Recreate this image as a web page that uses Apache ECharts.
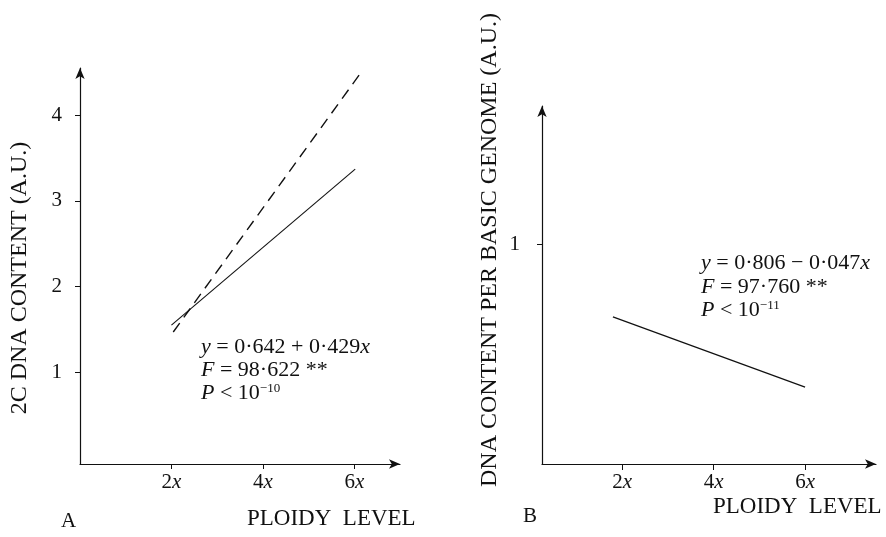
<!DOCTYPE html>
<html>
<head>
<meta charset="utf-8">
<script src="https://cdn.jsdelivr.net/npm/echarts@6/dist/echarts.min.js"></script>
<style>
  html, body { margin: 0; padding: 0; background: #fff; }
  #chart { width: 886px; height: 537px; }
</style>
</head>
<body>
<div id="chart"></div>
<script>
// ploidy ticks (2x, 4x, 6x)
const xTicks = [2, 4, 6]
const yTicksA = [1, 2, 3, 4]
const yTicksB = [1]

// panel A: fitted line (solid) and expected line (dashed)
const lineASolid = [[2.0, 1.55], [6.02, 3.37]]
const lineADashed = [[2.04, 1.47], [6.15, 4.5]]
// panel B: content per basic genome
const lineB = [[1.8, 0.67], [6.0, 0.35]]

const ink = '#111'
const serif = '"Liberation Serif", "DejaVu Serif", serif'

const chart = echarts.init(document.getElementById('chart'))

// shared axis styling
const axisBase = (extra) => Object.assign({
  type: 'value',
  splitLine: { show: false },
  axisLine: {
    show: true,
    onZero: false,
    symbol: ['none', 'arrow'],
    symbolSize: [7, 11],
    lineStyle: { color: ink, width: 1.2 }
  }
}, extra)

const xLabel = {
  color: ink, fontFamily: serif, fontSize: 21, margin: 8,
  formatter: v => v + '{i|x}',
  rich: { i: { fontStyle: 'italic', fontFamily: serif, fontSize: 21, color: ink } }
}

const txt = (x, y, text, opts) => ({
  type: 'text', x: x, y: y,
  style: Object.assign({
    text: text, fill: ink, fontFamily: serif, fontSize: 22,
    textAlign: 'left', textVerticalAlign: 'middle',
    rich: {
      i: { fontStyle: 'italic', fontFamily: serif, fontSize: 22, fill: ink },
      s: { fontFamily: serif, fontSize: 13, fill: ink, verticalAlign: 'top' }
    }
  }, opts || {})
})

const option = {
  animation: false,
  backgroundColor: '#fff',
  grid: [
    { left: 80, top: 68, width: 320, height: 396 },
    { left: 542, top: 106, width: 334, height: 358 }
  ],
  xAxis: [
    axisBase({
      gridIndex: 0, min: 0, max: 7,
      axisTick: { show: true, length: 5, customValues: xTicks, lineStyle: { color: ink } },
      axisLabel: Object.assign({ customValues: xTicks }, xLabel)
    }),
    axisBase({
      gridIndex: 1, min: 0.25, max: 7.55,
      axisTick: { show: true, length: 6, customValues: xTicks, lineStyle: { color: ink } },
      axisLabel: Object.assign({ customValues: xTicks }, xLabel)
    })
  ],
  yAxis: [
    axisBase({
      gridIndex: 0, min: -0.07, max: 4.55,
      axisTick: { show: true, length: 5, customValues: yTicksA, lineStyle: { color: ink } },
      axisLabel: { customValues: yTicksA, color: ink, fontFamily: serif, fontSize: 21, margin: 18 }
    }),
    axisBase({
      gridIndex: 1, min: 0, max: 1.63,
      axisTick: { show: true, length: 5, customValues: yTicksB, lineStyle: { color: ink } },
      axisLabel: { customValues: yTicksB, color: ink, fontFamily: serif, fontSize: 21, margin: 22 }
    })
  ],
  series: [
    {
      type: 'line', xAxisIndex: 0, yAxisIndex: 0, data: lineASolid,
      symbol: 'none', lineStyle: { color: ink, width: 1.1 }
    },
    {
      type: 'line', xAxisIndex: 0, yAxisIndex: 0, data: lineADashed,
      symbol: 'none', lineStyle: { color: ink, width: 1.4, type: [11, 7] }
    },
    {
      type: 'line', xAxisIndex: 1, yAxisIndex: 1, data: lineB,
      symbol: 'none', lineStyle: { color: ink, width: 1.2 }
    }
  ],
  graphic: [
    // axis titles
    txt(20, 278, '2C DNA CONTENT (A.U.)', { fontSize: 24, textAlign: 'center' }),
    txt(490, 250, 'DNA CONTENT PER BASIC GENOME (A.U.)', { fontSize: 24, textAlign: 'center' }),
    txt(247, 519, 'PLOIDY  LEVEL', { fontSize: 23 }),
    txt(713, 507, 'PLOIDY  LEVEL', { fontSize: 23 }),
    txt(61, 521, 'A', { fontSize: 21 }),
    txt(523, 516, 'B', { fontSize: 21 }),
    // regression notes, panel A
    txt(201, 347, '{i|y} = 0·642 + 0·429{i|x}'),
    txt(201, 370, '{i|F} = 98·622 **'),
    txt(201, 393, '{i|P} < 10{s|−10}'),
    // regression notes, panel B
    txt(701, 263, '{i|y} = 0·806 − 0·047{i|x}'),
    txt(701, 287, '{i|F} = 97·760 **'),
    txt(701, 310, '{i|P} < 10{s|−11}')
  ]
}

// rotate the vertical titles
option.graphic[0].rotation = Math.PI / 2
option.graphic[1].rotation = Math.PI / 2

chart.setOption(option)
</script>
</body>
</html>
